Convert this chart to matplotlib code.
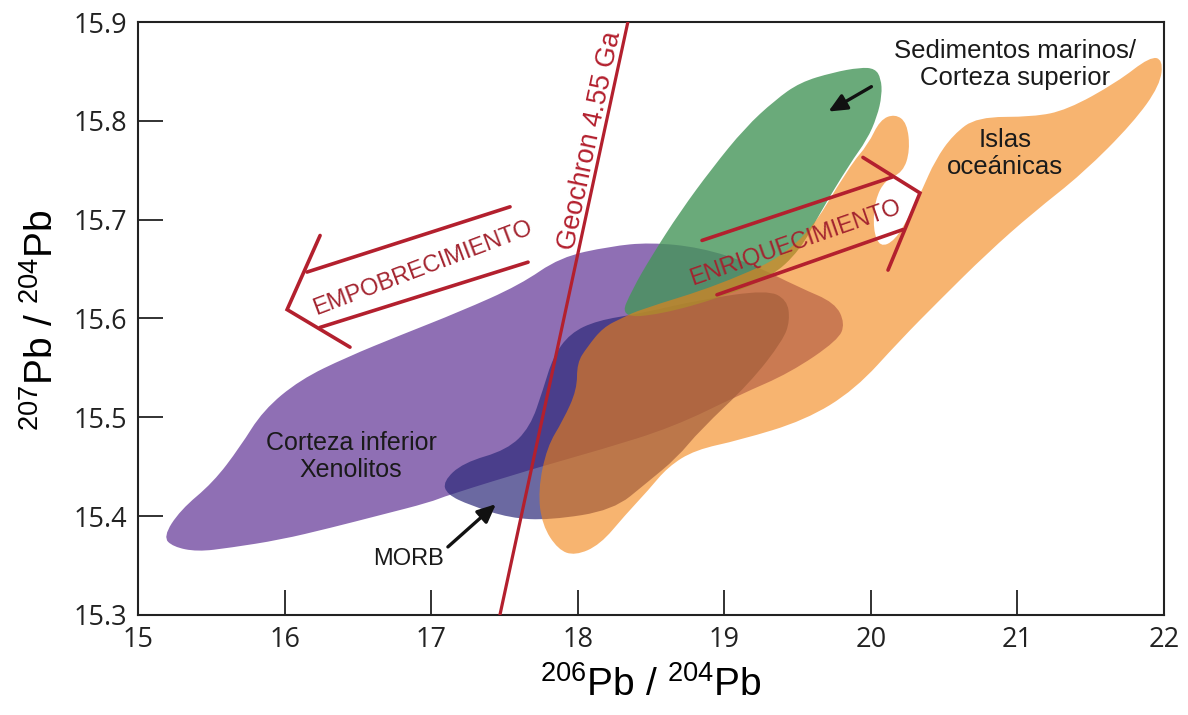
import matplotlib.pyplot as plt
from matplotlib.path import Path
from matplotlib.patches import PathPatch

plt.rcParams['font.family'] = ['Liberation Sans', 'DejaVu Sans']
plt.rcParams['mathtext.fontset'] = 'custom'
plt.rcParams['mathtext.rm'] = 'Liberation Sans'

# field outlines (206Pb/204Pb, 207Pb/204Pb)
corteza_inf_x = [15.171, 15.287, 15.512, 15.696, 15.853, 16.105, 16.426, 16.788, 17.197, 17.606,
                 17.879, 18.220, 18.493, 18.834, 19.176, 19.517, 19.755, 19.824, 19.776, 19.448,
                 19.107, 18.650, 18.152, 17.743, 17.108, 16.992, 16.651, 16.310, 15.969, 15.628,
                 15.403, 15.239]
corteza_inf_y = [15.379, 15.406, 15.434, 15.470, 15.507, 15.538, 15.561, 15.583, 15.607, 15.634,
                 15.662, 15.673, 15.677, 15.672, 15.656, 15.631, 15.616, 15.595, 15.578, 15.545,
                 15.523, 15.490, 15.467, 15.450, 15.421, 15.414, 15.401, 15.388, 15.376, 15.368,
                 15.364, 15.369]

morb_x = [17.081, 17.217, 17.518, 17.675, 17.763, 17.831, 17.947, 18.132, 18.425, 18.834,
          19.291, 19.428, 19.448, 19.401, 19.176, 18.834, 18.677, 18.473, 18.241, 17.811,
          17.538, 17.265, 17.108]
morb_y = [15.435, 15.454, 15.467, 15.490, 15.528, 15.561, 15.585, 15.598, 15.605, 15.619,
          15.629, 15.619, 15.598, 15.578, 15.535, 15.487, 15.459, 15.434, 15.406, 15.396,
          15.398, 15.411, 15.422]

sedimentos_x = [18.289, 18.370, 18.507, 18.698, 18.916, 19.141, 19.346, 19.517, 19.742, 19.926,
                20.028, 20.069, 20.076, 20.042, 19.974, 19.858, 19.653, 19.517, 19.312, 18.971,
                18.561]
sedimentos_y = [15.601, 15.629, 15.664, 15.708, 15.752, 15.793, 15.821, 15.839, 15.849, 15.854,
                15.853, 15.843, 15.826, 15.804, 15.781, 15.757, 15.707, 15.669, 15.641, 15.621,
                15.604]

islas_x = [17.982, 18.152, 18.323, 18.480, 18.616, 18.800, 19.107, 19.551, 19.892, 20.199,
           20.472, 20.793, 21.106, 21.447, 21.789, 21.973, 21.993, 21.905, 21.679, 21.338,
           21.106, 20.724, 20.561, 20.438, 20.349, 20.267, 20.165, 20.062, 20.015, 20.028,
           20.097, 20.219, 20.267, 20.247, 20.165, 20.062, 19.981, 19.858, 19.517, 18.971,
           18.425, 18.309, 18.173, 18.064, 17.995, 17.995, 17.900, 17.790, 17.729, 17.757,
           17.866]
islas_y = [15.360, 15.371, 15.401, 15.426, 15.450, 15.467, 15.477, 15.497, 15.528, 15.578,
           15.619, 15.666, 15.707, 15.747, 15.798, 15.836, 15.862, 15.865, 15.839, 15.811,
           15.804, 15.804, 15.786, 15.760, 15.730, 15.705, 15.679, 15.672, 15.690, 15.720,
           15.740, 15.748, 15.770, 15.798, 15.807, 15.801, 15.776, 15.755, 15.671, 15.634,
           15.609, 15.601, 15.591, 15.571, 15.555, 15.528, 15.497, 15.470, 15.426, 15.391,
           15.366]

geochron_x = [17.469, 18.342]
geochron_y = [15.3, 15.9]

# hand drawn arrows: shaft top, shaft bottom, head
empob_top_x, empob_top_y = [16.153, 17.538], [15.647, 15.713]
empob_bot_x, empob_bot_y = [16.242, 17.661], [15.591, 15.657]
empob_head_x, empob_head_y = [16.242, 16.017, 16.446], [15.684, 15.609, 15.571]
enriq_top_x, enriq_top_y = [18.848, 20.144], [15.679, 15.743]
enriq_bot_x, enriq_bot_y = [18.950, 20.219], [15.624, 15.690]
enriq_head_x, enriq_head_y = [19.946, 20.335, 20.117], [15.763, 15.727, 15.649]

xticks = [15, 16, 17, 18, 19, 20, 21, 22]
yticks = [15.3, 15.4, 15.5, 15.6, 15.7, 15.8, 15.9]

red = '#b3202e'


def blob(xs, ys, **kw):
    # closed smooth outline: outline points used as quadratic bezier controls
    pts = list(zip(xs, ys))
    n = len(pts)
    mids = [((pts[i][0] + pts[(i + 1) % n][0]) / 2, (pts[i][1] + pts[(i + 1) % n][1]) / 2)
            for i in range(n)]
    verts = [mids[-1]]
    codes = [Path.MOVETO]
    for i in range(n):
        verts += [pts[i], mids[i]]
        codes += [Path.CURVE3, Path.CURVE3]
    verts.append(mids[-1])
    codes.append(Path.CLOSEPOLY)
    return PathPatch(Path(verts, codes), edgecolor='none', **kw)


fig = plt.figure(figsize=(11.88, 7.15), dpi=100)
ax = fig.add_axes([0.1162, 0.1399, 0.8636, 0.8293])

ax.add_patch(blob(corteza_inf_x, corteza_inf_y, facecolor='#8f6fb4', zorder=1))
ax.add_patch(blob(morb_x, morb_y, facecolor='#2d2a7a', alpha=0.7, zorder=2))
ax.add_patch(blob(sedimentos_x, sedimentos_y, facecolor='#459559', alpha=0.8, zorder=3))
ax.add_patch(blob(islas_x, islas_y, facecolor='#f38211', alpha=0.6, zorder=4))

ax.plot(geochron_x, geochron_y, color=red, lw=2.3, zorder=6)
ax.text(18.084, 15.780, 'Geochron 4.55 Ga', color=red, fontsize=19.5, rotation=78,
        rotation_mode='anchor', ha='center', va='center', zorder=7)

for xs, ys in [(empob_top_x, empob_top_y), (empob_bot_x, empob_bot_y), (empob_head_x, empob_head_y),
               (enriq_top_x, enriq_top_y), (enriq_bot_x, enriq_bot_y), (enriq_head_x, enriq_head_y)]:
    ax.plot(xs, ys, color=red, lw=2.6, solid_capstyle='round', solid_joinstyle='miter', zorder=6)

ax.text(16.944, 15.651, 'EMPOBRECIMIENTO', color='#a3242f', fontsize=17, rotation=20.7,
        rotation_mode='anchor', ha='center', va='center', zorder=7)
ax.text(19.483, 15.676, 'ENRIQUECIMIENTO', color='#a3242f', fontsize=17, rotation=19.2,
        rotation_mode='anchor', ha='center', va='center', zorder=7)

ax.text(20.984, 15.857, 'Sedimentos marinos/\nCorteza superior', fontsize=18.5,
        ha='center', va='center', color='#1a1a1a', linespacing=1.2, zorder=7)
ax.text(20.915, 15.767, 'Islas\noceánicas', fontsize=18.5,
        ha='center', va='center', color='#1a1a1a', linespacing=1.15, zorder=7)
ax.text(16.453, 15.460, 'Corteza inferior\nXenolitos', fontsize=18,
        ha='center', va='center', color='#1a1a1a', linespacing=1.15, zorder=7)
ax.text(16.842, 15.357, 'MORB', fontsize=17, ha='center', va='center', color='#1a1a1a', zorder=7)

arrow = dict(arrowstyle='-|>,head_length=1.1,head_width=0.5', color='#111111', lw=2.4)
ax.annotate('', xy=(17.456, 15.414), xytext=(17.100, 15.367), arrowprops=arrow, zorder=8)
ax.annotate('', xy=(19.694, 15.808), xytext=(20.020, 15.836), arrowprops=arrow, zorder=8)

ax.set_xlim(15, 22)
ax.set_ylim(15.3, 15.9)
ax.set_xticks(xticks)
ax.set_yticks(yticks)
ax.set_xticklabels([str(v) for v in xticks], fontfamily='Open Sans')
ax.set_yticklabels(['%.1f' % v for v in yticks], fontfamily='Open Sans')
ax.tick_params(direction='in', length=18, width=1.3, labelsize=19.5, pad=8, colors='#222222')
for s in ax.spines.values():
    s.set_linewidth(1.5)
    s.set_color('#222222')

ax.set_xlabel('$^{206}$Pb / $^{204}$Pb', fontsize=28)
ax.set_ylabel('$^{207}$Pb / $^{204}$Pb', fontsize=28)
ax.xaxis.label.set_va('center')
ax.yaxis.label.set_va('center')
ax.xaxis.set_label_coords(0.5, -0.118)
ax.yaxis.set_label_coords(-0.094, 0.497)

fig.savefig('out.png', dpi=100)
